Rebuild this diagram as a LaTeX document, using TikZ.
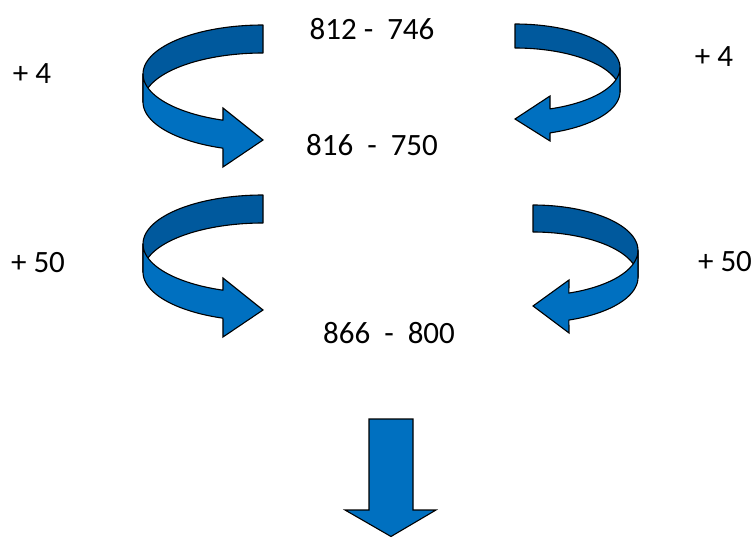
\documentclass[tikz,border=0pt]{standalone}
\usepackage{fontspec}
\setmainfont{Carlito}
\definecolor{frontblue}{HTML}{0070C0}
\definecolor{backblue}{HTML}{00599D}
\begin{document}
\begin{tikzpicture}[x=1pt,y=-1pt,
  lbl/.style={inner sep=0pt,font=\fontsize{31}{36}\selectfont},
  backface/.style={draw=black,line width=1.1pt,fill=backblue,line join=round},
  frontface/.style={draw=black,line width=1.1pt,fill=frontblue,line join=miter}]
\useasboundingbox (0,0) rectangle (756,538);

% ---- top-left curl (opens to the right) ----
\path[backface]
  plot[domain=-90:-180,samples=40,variable=\t] ({263+120*cos(\t)},{74+49*sin(\t)})
  -- plot[domain=-180:-90,samples=40,variable=\t] ({263+120*cos(\t)},{102+49*sin(\t)})
  -- cycle;
\path[frontface]
  plot[domain=180:109.5,samples=40,variable=\t] ({263+120*cos(\t)},{74+49*sin(\t)})
  -- (223,108) -- (263,140) -- (223,167)
  -- plot[domain=109.5:180,samples=40,variable=\t] ({263+120*cos(\t)},{102+49*sin(\t)})
  -- cycle;

% ---- top-right curl (opens to the left) ----
\path[backface]
  plot[domain=-90:0,samples=40,variable=\t] ({515+105*cos(\t)},{67.7+43.7*sin(\t)})
  -- plot[domain=0:-90,samples=40,variable=\t] ({515+105*cos(\t)},{91.7+43.7*sin(\t)})
  -- cycle;
\path[frontface]
  plot[domain=0:70.5,samples=40,variable=\t] ({515+105*cos(\t)},{67.7+43.7*sin(\t)})
  -- (550,96) -- (515,119) -- (550,141)
  -- plot[domain=70.5:0,samples=40,variable=\t] ({515+105*cos(\t)},{91.7+43.7*sin(\t)})
  -- cycle;

% ---- second-row left curl ----
\path[backface]
  plot[domain=-90:-180,samples=40,variable=\t] ({263+120*cos(\t)},{244+49*sin(\t)})
  -- plot[domain=-180:-90,samples=40,variable=\t] ({263+120*cos(\t)},{272+49*sin(\t)})
  -- cycle;
\path[frontface]
  plot[domain=180:109.5,samples=40,variable=\t] ({263+120*cos(\t)},{244+49*sin(\t)})
  -- (223,278) -- (263,310) -- (223,337)
  -- plot[domain=109.5:180,samples=40,variable=\t] ({263+120*cos(\t)},{272+49*sin(\t)})
  -- cycle;

% ---- second-row right curl ----
\path[backface]
  plot[domain=-90:0,samples=40,variable=\t] ({533+105*cos(\t)},{250.4+45.4*sin(\t)})
  -- plot[domain=0:-90,samples=40,variable=\t] ({533+105*cos(\t)},{277.4+45.4*sin(\t)})
  -- cycle;
\path[frontface]
  plot[domain=0:70,samples=40,variable=\t] ({533+105*cos(\t)},{250.4+45.4*sin(\t)})
  -- (569,280) -- (533,306) -- (569,333)
  -- plot[domain=70:0,samples=40,variable=\t] ({533+105*cos(\t)},{277.4+45.4*sin(\t)})
  -- cycle;

% ---- down arrow ----
\path[frontface]
  (369,419) -- (413,419) -- (413,510) -- (436,510) -- (391,536.5)
  -- (345,510) -- (369,510) -- cycle;

% ---- labels ----
\node[lbl] (n1) at (372,29) {812 -~~746};
\node[lbl] (n2) at (372,145) {816~~-~~750};
\node[lbl] (n3) at (389,333) {866~~-~~800};
\node[lbl] (p1) at (32,73.5) {+ 4};
\node[lbl] (p2) at (714,57) {+ 4};
\node[lbl] (p3) at (38,263) {+ 50};
\node[lbl] (p4) at (725,262) {+ 50};
\end{tikzpicture}
\end{document}
